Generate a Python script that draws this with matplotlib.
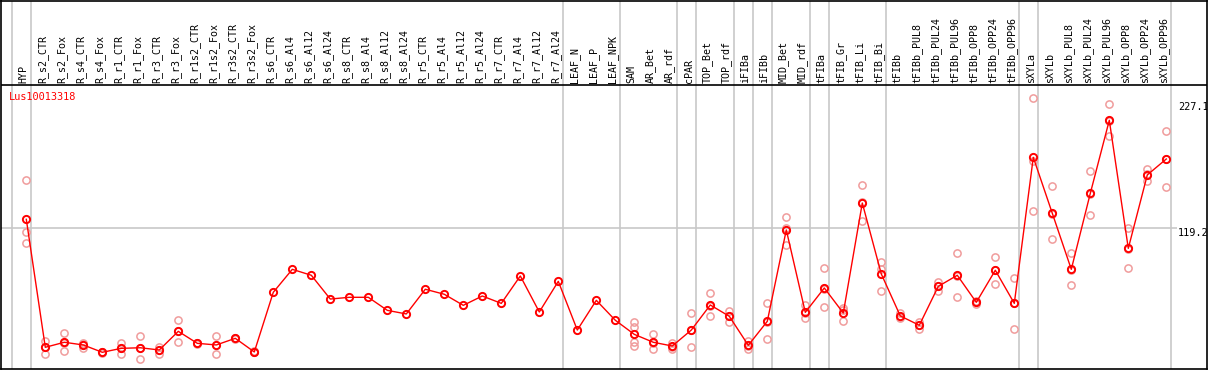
import matplotlib
matplotlib.use("Agg")
import matplotlib.pyplot as plt

#Datos:
muestras = ["HYP", "R_s2_CTR", "R_s2_Fox", "R_s4_CTR", "R_s4_Fox", "R_r1_CTR", "R_r1_Fox",
            "R_r3_CTR", "R_r3_Fox", "R_r1s2_CTR", "R_r1s2_Fox", "R_r3s2_CTR", "R_r3s2_Fox",
            "R_s6_CTR", "R_s6_Al4", "R_s6_Al12", "R_s6_Al24", "R_s8_CTR", "R_s8_Al4", "R_s8_Al12",
            "R_s8_Al24", "R_r5_CTR", "R_r5_Al4", "R_r5_Al12", "R_r5_Al24", "R_r7_CTR", "R_r7_Al4",
            "R_r7_Al12", "R_r7_Al24", "LEAF_N", "LEAF_P", "LEAF_NPK", "SAM", "AR_Bet", "AR_rdf",
            "cPAR", "TOP_Bet", "TOP_rdf", "iFIBa", "iFIBb", "MID_Bet", "MID_rdf", "tFIBa",
            "tFIB_Gr", "tFIB_Li", "tFIB_Bi", "tFIBb", "tFIBb_PUL8", "tFIBb_PUL24", "tFIBb_PUL96",
            "tFIBb_OPP8", "tFIBb_OPP24", "tFIBb_OPP96", "sXYLa", "sXYLb", "sXYLb_PUL8",
            "sXYLb_PUL24", "sXYLb_PUL96", "sXYLb_OPP8", "sXYLb_OPP24", "sXYLb_OPP96"]

medias = [126.8, 17.0, 21.3, 19.0, 12.7, 16.1, 16.6, 14.7, 30.7, 20.4, 19.0, 24.7, 13.0,
          64.2, 83.9, 78.8, 58.4, 59.9, 59.9, 48.7, 45.6, 66.8, 62.5, 53.0, 61.0, 54.7, 78.2,
          47.3, 73.6, 31.8, 57.3, 40.2, 28.1, 21.3, 18.1, 31.8, 53.3, 43.6, 18.7, 39.3, 117.7,
          47.0, 67.9, 46.4, 140.8, 79.9, 43.9, 35.9, 69.3, 78.8, 55.6, 83.1, 54.7, 180.0,
          132.0, 83.9, 149.1, 211.8, 101.9, 164.9, 178.6]

replicas = [[160.3, 115.7, 106.2], [22.4, 11.0, 17.5], [29.0, 13.8, 21.0], [20.1, 16.1, 20.8],
            [12.0, 13.3, 12.8], [20.7, 11.5, 16.2], [26.4, 6.7, 16.8], [17.5, 11.5, 15.0],
            [40.2, 21.3, 30.6], [20.9, 19.8, 20.5], [26.4, 11.5, 19.2], [24.2, 25.3, 24.6],
            [13.0, 12.6, 13.4],
            [], [], [], [], [], [], [], [], [], [], [], [], [], [], [], [], [], [], [],
            [38.7, 34.7, 21.8, 18.1], [28.1, 15.3, 20.6], [20.9, 15.8, 17.6], [46.4, 17.0, 32.0],
            [63.6, 43.9, 52.4], [48.1, 38.7, 44.0], [22.7, 15.5, 18.0], [55.0, 23.9, 39.0],
            [128.6, 105.0, 119.5], [53.3, 41.9, 46.0], [85.0, 51.6, 67.1], [51.0, 39.3, 48.9],
            [156.0, 125.1, 141.3], [90.2, 65.0, 83.9], [46.7, 42.1, 42.9], [39.0, 32.4, 36.3],
            [73.0, 65.0, 69.9], [97.9, 59.9, 78.6], [56.7, 53.9, 56.2], [94.5, 71.1, 83.7],
            [76.2, 32.7, 55.2], [230.7, 177.1, 134.0], [155.2, 109.7, 131.1], [97.9, 70.5, 83.3],
            [168.3, 130.5, 148.5], [225.8, 198.3, 211.3], [119.4, 84.8, 101.5],
            [170.0, 159.4, 165.3], [202.6, 154.6, 178.6]]

#Ultimo indice de cada grupo de muestras (-1 = borde izquierdo):
finGrupos = [-1, 0, 28, 31, 34, 35, 37, 38, 39, 41, 42, 45, 52, 53, 60]
etiquetasEje = [0, 119.2, 227.1]
nombreGen = "Lus10013318"

#Figura (pixeles -> unidades de datos):
W, H = 1209, 370
fig = plt.figure(figsize=(W / 100, H / 100), dpi=100)
ax = fig.add_axes([1 / W, 1 / H, 1206 / W, 368.5 / H])
escala = 1.1653
y0 = 367.1
def pix2val(y):
    return (y0 - y) / escala
ax.set_xlim((1 - 26.3) / 19, (1207 - 26.3) / 19)
ax.set_ylim(pix2val(369), pix2val(0.5))
ax.set_xticks([])
ax.set_yticks([])
for s in ax.spines.values():
    s.set_color("black")
    s.set_linewidth(1.2)

#Separadores de grupos y linea de referencia:
for k in finGrupos:
    ax.axvline(k + 0.23, color="#c8c8c8", lw=1.2, zorder=1)
ax.hlines(119.2, ax.get_xlim()[0], 60.55, color="#c8c8c8", lw=1.2, zorder=1)
ax.axhline(pix2val(85), color="black", lw=1.2, zorder=2)

#Replicas:
for i, reps in enumerate(replicas):
    ax.plot([i] * len(reps), reps, "o", ms=5.2, mfc="none", mec="#f09c9c", mew=1.1, zorder=3)

#Medias:
x = list(range(len(medias)))
ax.plot(x, medias, "-", color="red", lw=1.0, zorder=4)
ax.plot(x, medias, "o", ms=5.2, mfc="none", mec="red", mew=1.4, zorder=5)

#Etiquetas:
for i, nombre in enumerate(muestras):
    ax.text(i - 0.14, pix2val(83.5), nombre, rotation=90, ha="center", va="bottom",
            family="DejaVu Sans Mono", fontsize=7.2, color="black", zorder=6)
ax.text((9 - 26.3) / 19, pix2val(97.5), nombreGen, ha="left", va="center",
        family="DejaVu Sans Mono", fontsize=7.4, color="red", zorder=6)
for v in etiquetasEje:
    yv = max(v, pix2val(356.5))
    ax.text((1178 - 26.3) / 19, yv, str(v).rstrip("0").rstrip(".") if v == 0 else str(v),
            ha="left", va="top", family="DejaVu Sans Mono", fontsize=7.4, color="black",
            zorder=6, clip_on=True)

fig.savefig("out.png", dpi=100)
